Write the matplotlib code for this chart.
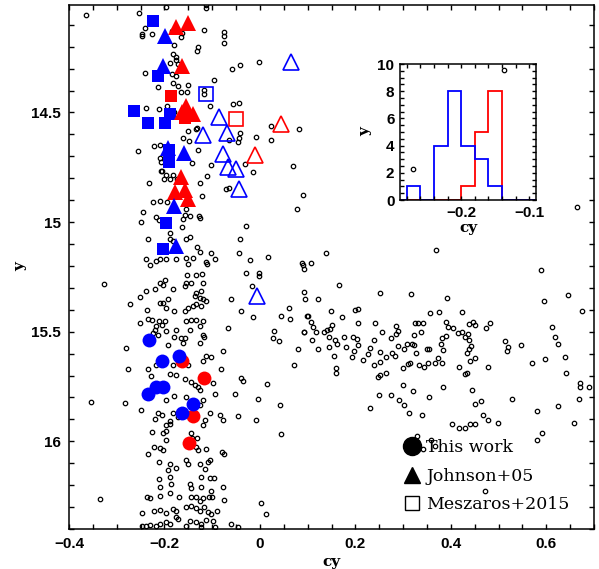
import numpy as np
import matplotlib
matplotlib.use("Agg")
import matplotlib.pyplot as plt
from matplotlib.lines import Line2D
from matplotlib.ticker import MultipleLocator, FuncFormatter

# field stars (cy, y)
field = [
    (-0.364, 14.054), (-0.254, 14.046), (-0.197, 14.020), (-0.112, 14.008), (-0.112, 14.023),
    (-0.241, 14.115), (-0.248, 14.142), (-0.248, 14.153), (-0.227, 14.142), (-0.184, 14.130),
    (-0.164, 14.138), (-0.166, 14.157), (-0.180, 14.191), (-0.117, 14.122), (-0.075, 14.135),
    (-0.075, 14.153), (-0.075, 14.183), (-0.129, 14.203), (-0.131, 14.222), (-0.182, 14.234),
    (-0.175, 14.249), (-0.176, 14.260), (-0.171, 14.280), (-0.189, 14.275), (-0.002, 14.271),
    (-0.042, 14.283), (-0.058, 14.303), (-0.241, 14.321), (-0.185, 14.326), (-0.176, 14.332),
    (-0.213, 14.382), (-0.183, 14.367), (-0.171, 14.378), (-0.150, 14.375), (-0.166, 14.408),
    (-0.152, 14.408), (-0.097, 14.353), (-0.118, 14.398), (-0.118, 14.416), (-0.238, 14.479),
    (-0.212, 14.486), (-0.194, 14.471), (-0.104, 14.469), (-0.057, 14.463), (-0.044, 14.456),
    (-0.180, 14.497), (-0.132, 14.570), (-0.134, 14.576), (-0.150, 14.584), (-0.161, 14.616),
    (-0.148, 14.631), (0.024, 14.563), (0.082, 14.576), (0.023, 14.627), (-0.009, 14.612),
    (-0.041, 14.596), (-0.044, 14.616), (-0.046, 14.635), (-0.065, 14.627), (-0.256, 14.674),
    (-0.221, 14.651), (-0.210, 14.650), (-0.129, 14.670), (-0.142, 14.732), (-0.210, 14.708),
    (-0.208, 14.726), (-0.208, 14.769), (-0.205, 14.768), (-0.196, 14.784), (-0.182, 14.784),
    (-0.201, 14.803), (-0.189, 14.803), (-0.173, 14.803), (-0.232, 14.820), (-0.125, 14.823),
    (-0.111, 14.792), (-0.102, 14.739), (-0.072, 14.849), (-0.065, 14.843), (-0.032, 14.735),
    (-0.014, 14.772), (0.069, 14.745), (0.090, 14.876), (0.078, 14.940), (-0.122, 14.882),
    (-0.224, 14.910), (-0.210, 14.902), (-0.194, 14.910), (-0.155, 14.940), (-0.244, 14.956),
    (-0.217, 14.979), (-0.249, 14.998), (-0.212, 14.991), (-0.161, 14.986), (-0.156, 14.968),
    (-0.147, 14.971), (-0.127, 14.974), (-0.125, 14.983), (-0.131, 15.112), (-0.164, 15.024),
    (-0.189, 15.052), (-0.189, 15.075), (-0.183, 15.086), (-0.235, 15.078), (-0.154, 15.078),
    (-0.147, 15.067), (-0.042, 15.078), (-0.030, 15.020),
    (0.665, 14.931), (0.320, 14.757), (0.512, 14.306),
    (-0.239, 15.170), (-0.231, 15.196), (-0.217, 15.178), (-0.210, 15.170), (-0.196, 15.170),
    (-0.175, 15.167), (-0.154, 15.162), (-0.151, 15.193), (-0.140, 15.162), (-0.126, 15.136),
    (-0.102, 15.142), (-0.095, 15.170), (-0.112, 15.182), (-0.110, 15.193), (-0.043, 15.139),
    (-0.020, 15.174), (0.017, 15.158), (0.107, 15.188), (0.093, 15.216), (-0.326, 15.283),
    (-0.210, 15.277), (-0.203, 15.285), (-0.199, 15.262), (-0.152, 15.243), (-0.133, 15.243),
    (-0.121, 15.239), (-0.154, 15.277), (-0.144, 15.277), (-0.119, 15.277), (-0.029, 15.234),
    (-0.001, 15.231), (-0.001, 15.246), (-0.016, 15.292), (-0.252, 15.343), (-0.238, 15.315),
    (-0.220, 15.307), (-0.183, 15.307), (-0.156, 15.292), (-0.133, 15.323), (-0.123, 15.315),
    (-0.137, 15.338), (-0.126, 15.346), (-0.119, 15.353), (-0.114, 15.361), (-0.060, 15.350),
    (-0.273, 15.372), (-0.210, 15.369), (-0.203, 15.369), (-0.192, 15.353), (-0.196, 15.392),
    (-0.179, 15.407), (-0.158, 15.407), (-0.151, 15.392), (-0.140, 15.384), (-0.133, 15.376),
    (-0.123, 15.384), (-0.039, 15.404), (0.060, 15.392), (0.064, 15.442), (0.045, 15.430),
    (0.099, 15.430), (-0.015, 15.434), (-0.236, 15.402), (-0.234, 15.442), (-0.227, 15.445),
    (-0.211, 15.453), (-0.199, 15.453), (-0.252, 15.460), (-0.217, 15.476), (-0.206, 15.468),
    (-0.220, 15.491), (-0.196, 15.499), (-0.175, 15.491), (-0.154, 15.453), (-0.144, 15.448),
    (-0.133, 15.445), (-0.119, 15.453), (-0.147, 15.491), (-0.126, 15.476), (-0.067, 15.483),
    (0.029, 15.496), (0.027, 15.529), (0.039, 15.544), (0.093, 15.500), (0.079, 15.580),
    (0.071, 15.653), (-0.224, 15.506), (-0.213, 15.514), (-0.179, 15.522), (-0.165, 15.529),
    (-0.158, 15.529), (-0.119, 15.514), (-0.118, 15.525), (-0.281, 15.574), (-0.192, 15.560),
    (-0.161, 15.552), (-0.126, 15.552), (-0.077, 15.586), (-0.112, 15.613), (-0.102, 15.616),
    (-0.158, 15.644), (-0.151, 15.652), (-0.119, 15.636), (-0.081, 15.671), (-0.276, 15.670),
    (-0.234, 15.671), (-0.217, 15.652), (-0.182, 15.652), (-0.229, 15.702), (-0.189, 15.694),
    (-0.175, 15.697), (-0.158, 15.717), (-0.144, 15.728), (-0.137, 15.743), (-0.130, 15.751),
    (-0.126, 15.766), (-0.098, 15.736), (-0.095, 15.782), (-0.039, 15.713), (-0.036, 15.723),
    (-0.052, 15.782), (0.015, 15.739), (-0.354, 15.821), (-0.282, 15.826), (-0.250, 15.858),
    (-0.231, 15.797), (-0.196, 15.812), (-0.179, 15.792), (-0.154, 15.797), (-0.119, 15.812),
    (-0.126, 15.835), (-0.003, 15.809), (0.043, 15.835), (-0.213, 15.873), (-0.206, 15.881),
    (-0.220, 15.896), (-0.189, 15.907), (-0.189, 15.922), (-0.196, 15.927), (-0.182, 15.873),
    (-0.172, 15.888), (-0.116, 15.904), (-0.105, 15.869), (-0.084, 15.881), (-0.077, 15.904),
    (-0.045, 15.885), (-0.009, 15.904), (0.045, 15.965), (-0.227, 15.957), (-0.204, 15.962),
    (-0.196, 15.954), (-0.144, 15.962), (-0.119, 15.927), (-0.142, 15.983), (-0.132, 15.983),
    (-0.234, 16.060), (-0.222, 16.026), (-0.210, 16.029), (-0.203, 16.038), (-0.197, 15.996),
    (-0.133, 16.026), (-0.130, 16.041), (-0.112, 16.034), (-0.079, 16.049), (-0.075, 16.057),
    (-0.212, 16.095), (-0.189, 16.103), (-0.154, 16.087), (-0.151, 16.103), (-0.126, 16.103),
    (-0.116, 16.126), (-0.109, 16.095), (-0.105, 16.087), (-0.192, 16.133), (-0.175, 16.122),
    (-0.189, 16.164), (-0.123, 16.164), (-0.105, 16.168), (-0.097, 16.167), (-0.212, 16.171),
    (-0.210, 16.210), (-0.187, 16.194), (-0.147, 16.194), (-0.144, 16.213), (-0.123, 16.210),
    (-0.103, 16.225), (-0.077, 16.207), (-0.236, 16.252), (-0.231, 16.258), (-0.210, 16.248),
    (-0.189, 16.237), (-0.170, 16.255), (-0.144, 16.255), (-0.133, 16.252), (-0.126, 16.274),
    (-0.119, 16.260), (-0.107, 16.255), (-0.100, 16.255), (-0.075, 16.268), (-0.335, 16.263),
    (0.003, 16.281), (0.012, 16.332), (-0.248, 16.329), (-0.222, 16.320), (-0.210, 16.314),
    (-0.197, 16.326), (-0.182, 16.309), (-0.175, 16.317), (-0.154, 16.301), (-0.144, 16.294),
    (-0.133, 16.304), (-0.126, 16.317), (-0.118, 16.301), (-0.109, 16.324), (-0.102, 16.332),
    (-0.090, 16.317), (-0.248, 16.385), (-0.238, 16.385), (-0.231, 16.381), (-0.217, 16.388),
    (-0.210, 16.378), (-0.196, 16.366), (-0.189, 16.378), (-0.175, 16.347), (-0.172, 16.355),
    (-0.147, 16.363), (-0.154, 16.385), (-0.133, 16.366), (-0.124, 16.378), (-0.112, 16.360),
    (-0.098, 16.363), (-0.123, 16.393), (-0.095, 16.390), (-0.060, 16.378), (-0.045, 16.393),
    # subgiant branch / red side
    (0.139, 15.142), (0.369, 15.127), (0.089, 15.185), (0.090, 15.197), (0.166, 15.289),
    (0.092, 15.320), (0.095, 15.350), (0.122, 15.350), (0.251, 15.323), (0.316, 15.327),
    (0.392, 15.347), (0.148, 15.404), (0.199, 15.402), (0.205, 15.396), (0.100, 15.430),
    (0.172, 15.433), (0.108, 15.456), (0.111, 15.479), (0.093, 15.500), (0.118, 15.500),
    (0.135, 15.500), (0.141, 15.491), (0.146, 15.488), (0.152, 15.470), (0.144, 15.522),
    (0.110, 15.537), (0.122, 15.577), (0.145, 15.570), (0.155, 15.610), (0.157, 15.540),
    (0.161, 15.555), (0.159, 15.667), (0.159, 15.687), (0.176, 15.522), (0.181, 15.572),
    (0.192, 15.615), (0.195, 15.525), (0.203, 15.534), (0.198, 15.586), (0.205, 15.560),
    (0.206, 15.460), (0.217, 15.629), (0.226, 15.603), (0.231, 15.575), (0.238, 15.652),
    (0.240, 15.540), (0.242, 15.460), (0.251, 15.639), (0.252, 15.593), (0.255, 15.502),
    (0.248, 15.705), (0.252, 15.699), (0.249, 15.789), (0.265, 15.616), (0.265, 15.690),
    (0.274, 15.528), (0.276, 15.595), (0.284, 15.610), (0.286, 15.476), (0.286, 15.511),
    (0.290, 15.499), (0.289, 15.564), (0.301, 15.580), (0.300, 15.667), (0.308, 15.555),
    (0.311, 15.648), (0.315, 15.644), (0.319, 15.555), (0.322, 15.563), (0.326, 15.598),
    (0.322, 15.514), (0.325, 15.460), (0.331, 15.460), (0.337, 15.503), (0.342, 15.460),
    (0.333, 15.652), (0.343, 15.659), (0.352, 15.644), (0.350, 15.578), (0.355, 15.577),
    (0.357, 15.414), (0.376, 15.408), (0.366, 15.644), (0.373, 15.621), (0.382, 15.641),
    (0.380, 15.555), (0.383, 15.583), (0.382, 15.529), (0.389, 15.457), (0.394, 15.479),
    (0.390, 15.518), (0.405, 15.483), (0.414, 15.506), (0.423, 15.408), (0.423, 15.503),
    (0.429, 15.525), (0.436, 15.509), (0.438, 15.540), (0.443, 15.564), (0.438, 15.577),
    (0.433, 15.598), (0.440, 15.636), (0.450, 15.622), (0.418, 15.659), (0.429, 15.694),
    (0.434, 15.690), (0.438, 15.467), (0.447, 15.457), (0.450, 15.470), (0.474, 15.485),
    (0.482, 15.460), (0.477, 15.662), (0.514, 15.544), (0.520, 15.572), (0.517, 15.590),
    (0.546, 15.560), (0.571, 15.644), (0.589, 15.219), (0.596, 15.358), (0.598, 15.626),
    (0.611, 15.480), (0.619, 15.525), (0.625, 15.554), (0.645, 15.332), (0.639, 15.616),
    (0.641, 15.687), (0.674, 15.404), (0.671, 15.736), (0.671, 15.751), (0.690, 15.751),
    (0.668, 15.806), (0.624, 15.838), (0.581, 15.863), (0.659, 15.915), (0.591, 15.963),
    (0.580, 15.993), (0.528, 15.809), (0.463, 15.814), (0.451, 15.829), (0.445, 15.766),
    (0.467, 15.882), (0.477, 15.904), (0.499, 15.915), (0.441, 15.919), (0.450, 15.922),
    (0.403, 15.922), (0.417, 15.939), (0.430, 15.939), (0.383, 15.754), (0.354, 15.797),
    (0.300, 15.743), (0.320, 15.769), (0.291, 15.812), (0.302, 15.835), (0.313, 15.869),
    (0.339, 15.878), (0.275, 15.789), (0.231, 15.849), (0.329, 15.976), (0.359, 15.993),
    (0.341, 16.034), (0.366, 16.023), (0.472, 16.228),
]
field_cy = [p[0] for p in field]
field_y = [p[1] for p in field]

# This work (circles)
tw_blue_cy = [-0.233, -0.206, -0.169, -0.234, -0.218, -0.203, -0.141, -0.163]
tw_blue_y = [15.540, 15.632, 15.610, 15.784, 15.754, 15.751, 15.830, 15.870]
tw_red_cy = [-0.164, -0.118, -0.141, -0.149]
tw_red_y = [15.632, 15.712, 15.885, 16.008]

# Johnson+05 (triangles), filled
jo_blue_cy = [-0.199, -0.203, -0.192, -0.159, -0.180, -0.176]
jo_blue_y = [14.153, 14.290, 14.661, 14.683, 14.925, 15.109]
jo_red_cy = [-0.175, -0.150, -0.164, -0.154, -0.141, -0.164, -0.166, -0.178, -0.157, -0.150]
jo_red_y = [14.112, 14.092, 14.290, 14.469, 14.505, 14.497, 14.795, 14.864, 14.856, 14.894]
# Johnson+05, open
jo_blue_open_cy = [0.066, -0.086, -0.119, -0.070, -0.077, -0.067, -0.051, -0.044, -0.007]
jo_blue_open_y = [14.272, 14.520, 14.604, 14.592, 14.688, 14.749, 14.757, 14.849, 15.338]
jo_red_open_cy = [0.044, -0.011]
jo_red_open_y = [14.555, 14.693]

# Meszaros+2015 (squares)
me_blue_cy = [-0.225, -0.214, -0.264, -0.235, -0.199, -0.189, -0.191, -0.191, -0.196, -0.204]
me_blue_y = [14.081, 14.333, 14.494, 14.546, 14.550, 14.505, 14.726, 14.673, 15.005, 15.124]
me_red_cy = [-0.187, -0.157]
me_red_y = [14.425, 14.524]
me_blue_open_cy = [-0.112]
me_blue_open_y = [14.417]
me_red_open_cy = [-0.051]
me_red_open_y = [14.528]

# inset histogram
hist_edges = [-0.30, -0.28, -0.26, -0.24, -0.22, -0.20, -0.18, -0.16, -0.14, -0.12, -0.10, -0.08]
hist_blue = [0, 1, 0, 4, 8, 4, 3, 1, 0, 0, 0]
hist_red = [0, 0, 0, 0, 0, 1, 5, 8, 0, 0, 0]

BLUE = (0, 0, 1)
RED = (1, 0, 0)
tickfont = dict(family='Liberation Sans', weight='bold', size=11)

def fmt(v, pos):
    s = f"{v:g}"
    return s.replace('-', '\u2212')

fig = plt.figure(figsize=(5.99, 5.69), dpi=100)
ax = fig.add_axes([0.1152, 0.0703, 0.8765, 0.9209])

ax.plot(field_cy, field_y, 'o', mfc='none', mec='k', ms=3.2, mew=0.9, zorder=1)

ax.plot(me_blue_cy, me_blue_y, 's', color=BLUE, ms=8.5, mew=0, zorder=3)
ax.plot(me_red_cy, me_red_y, 's', color=RED, ms=8.5, mew=0, zorder=3)
ax.plot(me_blue_open_cy, me_blue_open_y, 's', mfc='none', mec=BLUE, ms=10, mew=1.2, zorder=3)
ax.plot(me_red_open_cy, me_red_open_y, 's', mfc='none', mec=RED, ms=10, mew=1.2, zorder=3)

ax.plot(jo_red_cy, jo_red_y, '^', color=RED, ms=11, mew=0, zorder=4)
ax.plot(jo_blue_cy, jo_blue_y, '^', color=BLUE, ms=11, mew=0, zorder=4)
ax.plot(jo_blue_open_cy, jo_blue_open_y, '^', mfc='none', mec=BLUE, ms=12, mew=1.2, zorder=4)
ax.plot(jo_red_open_cy, jo_red_open_y, '^', mfc='none', mec=RED, ms=12, mew=1.2, zorder=4)

ax.plot(tw_red_cy, tw_red_y, 'o', color=RED, ms=10, mew=0, zorder=5)
ax.plot(tw_blue_cy, tw_blue_y, 'o', color=BLUE, ms=10, mew=0, zorder=5)

ax.set_xlim(-0.4, 0.7)
ax.set_ylim(16.4, 14.01)
ax.xaxis.set_major_locator(MultipleLocator(0.2))
ax.xaxis.set_minor_locator(MultipleLocator(0.05))
ax.set_yticks([14.5, 15, 15.5, 16])
ax.yaxis.set_minor_locator(MultipleLocator(0.1))
ax.xaxis.set_major_formatter(FuncFormatter(fmt))
ax.yaxis.set_major_formatter(FuncFormatter(fmt))
ax.tick_params(which='both', direction='in', top=True, right=True, length=3.6, width=1.0, pad=6)
for lab in ax.get_xticklabels() + ax.get_yticklabels():
    lab.set_fontproperties(matplotlib.font_manager.FontProperties(**tickfont))
for sp in ax.spines.values():
    sp.set_linewidth(1.1)
ax.set_xlabel('cy', fontsize=11, fontweight='bold', family='DejaVu Serif', labelpad=3)
ax.set_ylabel('y', fontsize=11, fontweight='bold', family='DejaVu Serif', labelpad=3)

handles = [
    Line2D([], [], marker='o', color='k', ls='', ms=13),
    Line2D([], [], marker='^', color='k', ls='', ms=11),
    Line2D([], [], marker='s', mfc='none', mec='k', ls='', ms=10, mew=1.0),
]
ax.legend(handles, ['This work', 'Johnson+05', 'Meszaros+2015'], loc='upper left',
          bbox_to_anchor=(0.637, 0.172), frameon=False, borderpad=0, borderaxespad=0,
          handlelength=1.0, handletextpad=0.3, labelspacing=0.68,
          prop=dict(family='DejaVu Serif', size=12.5))

# inset
ins = fig.add_axes([0.6678, 0.6485, 0.2270, 0.2390])
ins.patch.set_alpha(0)
ins.stairs(hist_red, hist_edges, color=RED, lw=1.3)
ins.stairs(hist_blue, hist_edges, color=BLUE, lw=1.3)
ins.set_xlim(-0.29, -0.09)
ins.set_ylim(0, 10)
ins.xaxis.set_major_locator(MultipleLocator(0.1))
ins.xaxis.set_minor_locator(MultipleLocator(0.02))
ins.yaxis.set_major_locator(MultipleLocator(2))
ins.yaxis.set_minor_locator(MultipleLocator(0.5))
ins.xaxis.set_major_formatter(FuncFormatter(fmt))
ins.tick_params(which='both', direction='in', top=True, right=True, length=3, width=1.0, pad=4)
for lab in ins.get_xticklabels() + ins.get_yticklabels():
    lab.set_fontproperties(matplotlib.font_manager.FontProperties(**tickfont))
for sp in ins.spines.values():
    sp.set_linewidth(1.1)
ins.set_xlabel('cy', fontsize=11, fontweight='bold', family='DejaVu Serif', labelpad=1)
ins.set_ylabel('y', fontsize=11, fontweight='bold', family='DejaVu Serif', labelpad=4)

fig.savefig('out.png', dpi=100)
